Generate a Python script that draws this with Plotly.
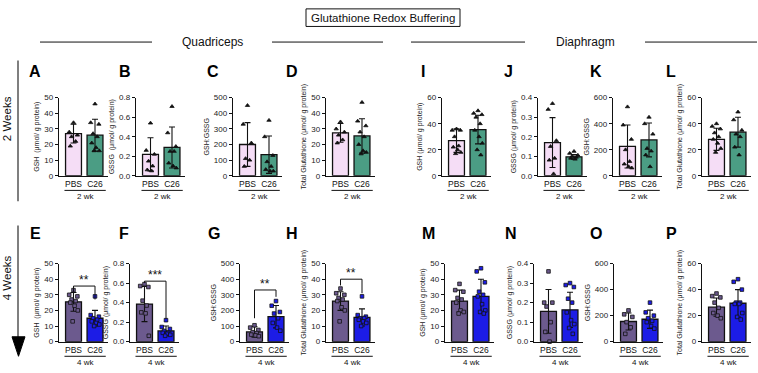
import plotly.graph_objects as go

W, H = 758, 373

# ---------------- data ----------------
letters = ["A", "B", "C", "D", "I", "J", "K", "L",
           "E", "F", "G", "H", "M", "N", "O", "P"]
groups = ["PBS", "C26"]
ytitles = ["GSH  (μmol/ g protein)", "GSSG  (μmol/ g protein)", "GSH:GSSG", "Total Glutathione (μmol/ g protein)",
           "GSH (μmol/ g protein)", "GSSG (μmol/ g protein)", "GSH:GSSG", "Total Glutathione (μmol/ g protein)",
           "GSH  (μmol/ g protein)", "GSSG (μmol/ g protein)", "GSH:GSSG", "Total Glutathione (μmol/ g protein)",
           "GSH (μmol/ g protein)", "GSSG (μmol/ g protein)", "GSH:GSSG", "Total Glutathione (μmol/ g protein)"]
ymax = [50, 0.8, 500, 50, 60, 0.4, 600, 60,
        50, 0.8, 500, 50, 50, 0.4, 600, 60]
ydtick = [10, 0.2, 100, 10, 20, 0.1, 200, 20,
          10, 0.2, 100, 10, 10, 0.1, 200, 20]

pbs_mean = [27, 0.22, 200, 27.5, 27, 0.17, 225, 28,
            25.5, 0.385, 62, 26, 26, 0.155, 155, 26.5]
pbs_sd = [6, 0.17, 140, 6, 9, 0.128, 165, 8.5,
          6, 0.18, 33, 6, 7, 0.112, 65, 7]
c26_mean = [26, 0.29, 135, 25.5, 35.5, 0.097, 275, 33.5,
            15, 0.11, 160, 15.5, 29, 0.163, 172, 29.5]
c26_sd = [10.2, 0.21, 120, 11, 11, 0.012, 130, 11.5,
          5, 0.05, 72, 5.5, 11, 0.09, 70, 10.5]

pbs_pts = [
    [34, 28, 26, 25, 22, 19],
    [0.54, 0.26, 0.22, 0.15, 0.10, 0.06, 0.05],
    [450, 330, 210, 110, 100, 60],
    [34.5, 30, 28, 26, 23, 21],
    [36, 35, 35, 30, 23, 22, 20, 18, 17],
    [0.37, 0.34, 0.18, 0.15, 0.09, 0.08, 0.01],
    [530, 390, 280, 200, 110, 90, 70, 60],
    [40, 38, 36, 33, 30, 28, 25, 21, 18],
    [33, 30, 29, 27, 26, 25, 23, 20, 13],
    [0.59, 0.57, 0.56, 0.42, 0.37, 0.30, 0.29, 0.06],
    [105, 90, 75, 60, 55, 45, 40, 35],
    [34, 31, 30, 28, 27, 26, 22, 20, 13],
    [37, 33, 32, 28, 27, 25, 20, 19, 18],
    [0.36, 0.20, 0.20, 0.18, 0.10, 0.05, 0.0],
    [240, 210, 190, 150, 110, 60],
    [37, 35, 34, 30, 26, 22, 20, 18],
]
c26_pts = [
    [46, 34, 33, 27, 25, 21, 18, 16, 16],
    [0.71, 0.44, 0.30, 0.25, 0.25, 0.13, 0.10, 0.08],
    [355, 250, 130, 90, 60, 40, 30, 30],
    [47, 35, 32, 28, 25, 20, 16, 15, 14],
    [50, 48, 47, 45, 40, 35, 30, 25, 20, 16],
    [0.125, 0.115, 0.105, 0.10, 0.095, 0.09, 0.085],
    [450, 400, 320, 210, 190, 160, 70],
    [49, 43, 35, 32, 30, 22, 16],
    [29, 17, 16, 15, 14, 13, 12, 11, 10],
    [0.22, 0.15, 0.13, 0.11, 0.09, 0.09, 0.08, 0.07, 0.06],
    [260, 230, 190, 180, 150, 120, 90, 70],
    [29, 17, 16, 15, 15, 14, 13, 12, 10],
    [47, 45, 38, 32, 30, 29, 24, 20, 19, 18],
    [0.30, 0.29, 0.28, 0.22, 0.20, 0.15, 0.11, 0.09, 0.07, 0.04],
    [300, 225, 200, 180, 160, 150, 120, 100],
    [48, 46, 40, 30, 30, 29, 29, 22, 19, 17],
]

# significance brackets: panel index, left-leg bottom, right-leg bottom, top, label
sig_panel = [8, 9, 10, 11]
sig_left = [30.5, 0.60, 150, 36]
sig_right = [27, 0.23, 287, 31]
sig_top = [35.6, 0.62, 331, 40]
sig_label = ["**", "***", "**", "**"]

# ---------------- layout geometry ----------------
axis_x0 = [59, 136, 233, 326, 442, 538, 613, 702,
           59, 130, 240, 326, 445, 534, 614, 702]
letter_x = [35, 125, 213, 292, 423, 508, 596, 671,
            35, 124, 214, 292, 428, 511, 596, 671]
FONT = "Liberation Sans, Arial, sans-serif"
col_pbs = ["#F5DDF6", "#6C5A8E"]
col_c26 = ["#4B9D84", "#1C1CE6"]
sym = ["triangle-up", "square"]

def px(x):
    return x / W

def py(y):
    return 1 - y / H

def ann(**kw):
    kw.setdefault("showarrow", False)
    kw.setdefault("xanchor", "center")
    kw.setdefault("yanchor", "middle")
    return kw

fig = go.Figure()
layout = dict(width=W, height=H, margin=dict(l=0, r=0, t=0, b=0),
              paper_bgcolor="white", plot_bgcolor="white", showlegend=False,
              font=dict(family=FONT, color="#222"))
shapes = []
annotations = []

offs = [0.0, -0.2, 0.18, -0.09, 0.1, -0.15, 0.05, 0.2, -0.04, 0.13]
xunit = 21.5  # px per category step

for i in range(16):
    row = 0 if i < 8 else 1
    k = "" if i == 0 else str(i + 1)
    xa, ya = "x" + k, "y" + k
    x0 = axis_x0[i]
    ytop, ybot = (96, 176) if row == 0 else (266, 346)
    xr = [-14.5 / xunit, (49 - 14.5) / xunit]
    fig.add_trace(go.Bar(x=[0, 1], y=[pbs_mean[i], c26_mean[i]], width=0.74,
                         marker=dict(color=[col_pbs[row], col_c26[row]],
                                     line=dict(color="#111", width=1.3)),
                         error_y=dict(type="data", array=[pbs_sd[i], c26_sd[i]],
                                      color="#111", thickness=1.1, width=3),
                         xaxis=xa, yaxis=ya, hoverinfo="skip"))
    for g, pts in enumerate([pbs_pts[i], c26_pts[i]]):
        xs = [g + offs[j % len(offs)] for j in range(len(pts))]
        mc = "#111" if row == 0 else (col_pbs[1] if g == 0 else col_c26[1])
        fig.add_trace(go.Scatter(x=xs, y=pts, mode="markers",
                                 marker=dict(symbol=sym[row], size=3.8 if row == 0 else 3.6,
                                             color=mc, line=dict(color="#111", width=0.8)),
                                 xaxis=xa, yaxis=ya, cliponaxis=False, hoverinfo="skip"))
    layout["xaxis" + k] = dict(domain=[px(x0), px(x0 + 49)], range=xr, anchor=ya,
                               showline=True, linecolor="#111", linewidth=1.2,
                               tickvals=[0, 1], ticktext=groups, ticks="",
                               tickfont=dict(size=8.5, color="#111"), showgrid=False,
                               zeroline=False, fixedrange=True)
    layout["yaxis" + k] = dict(domain=[py(ybot), py(ytop)], range=[0, ymax[i]], anchor=xa,
                               showline=True, linecolor="#111", linewidth=1.2,
                               ticks="outside", ticklen=3, tickwidth=1, tickcolor="#111",
                               dtick=ydtick[i], tick0=0,
                               tickformat=".1f" if ymax[i] < 1 else "d",
                               tickfont=dict(size=8, color="#222"), showgrid=False,
                               zeroline=False, fixedrange=True,
                               title=dict(text=ytitles[i], font=dict(size=7, color="#222"),
                                          standoff=3))
    # group underline and week label
    uy = 191 if row == 0 else 361
    shapes.append(dict(type="line", xref=xa, yref="paper", x0=-0.42, x1=1.5,
                       y0=py(uy), y1=py(uy), line=dict(color="#111", width=1)))
    annotations.append(ann(text="2 wk" if row == 0 else "4 wk", xref=xa, yref="paper",
                           x=0.54, y=py(uy + 6), font=dict(size=8, color="#111")))
    # panel letter
    annotations.append(ann(text="<b>" + letters[i] + "</b>", xref="paper", yref="paper",
                           x=px(letter_x[i]), y=py(69 if row == 0 else 235),
                           font=dict(size=16, color="#000", family="Liberation Sans, Arial")))

# significance brackets
for s in range(len(sig_panel)):
    i = sig_panel[s]
    k = "" if i == 0 else str(i + 1)
    xa, ya = "x" + k, "y" + k
    shapes.append(dict(type="path", xref=xa, yref=ya,
                       path=f"M 0,{sig_left[s]} L 0,{sig_top[s]} L 1,{sig_top[s]} L 1,{sig_right[s]}",
                       line=dict(color="#111", width=1)))
    annotations.append(ann(text=sig_label[s], xref=xa, yref=ya, x=0.5, y=sig_top[s],
                           yanchor="bottom", yshift=-3, font=dict(size=12, color="#111")))

# title box
shapes.append(dict(type="rect", xref="paper", yref="paper", x0=px(306), x1=px(460),
                   y0=py(23), y1=py(5), line=dict(color="#111", width=1)))
annotations.append(ann(text="Glutathione Redox Buffering", xref="paper", yref="paper",
                       x=px(383), y=py(14), font=dict(size=11.5, color="#111")))
# section headers
for (a, b) in [(40, 152), (272, 383), (411, 525), (645, 757)]:
    shapes.append(dict(type="line", xref="paper", yref="paper", x0=px(a), x1=px(b),
                       y0=py(39), y1=py(39), line=dict(color="#111", width=1)))
annotations.append(ann(text="Quadriceps", xref="paper", yref="paper", x=px(212), y=py(39),
                       font=dict(size=12, color="#111")))
annotations.append(ann(text="Diaphragm", xref="paper", yref="paper", x=px(585), y=py(39),
                       font=dict(size=12, color="#111")))
# weeks side lines
shapes.append(dict(type="line", xref="paper", yref="paper", x0=px(18), x1=px(18),
                   y0=py(58), y1=py(202), line=dict(color="#555", width=1.5)))
shapes.append(dict(type="line", xref="paper", yref="paper", x0=px(18), x1=px(18),
                   y0=py(227), y1=py(345), line=dict(color="#555", width=1.5)))
shapes.append(dict(type="path", xref="paper", yref="paper",
                   path=f"M {px(12)},{py(341)} L {px(25)},{py(341)} L {px(18.5)},{py(361)} Z",
                   fillcolor="#000", line=dict(color="#000", width=1)))
annotations.append(ann(text="2 Weeks", xref="paper", yref="paper", x=px(7), y=py(118),
                       textangle=-90, font=dict(size=11.5, color="#111")))
annotations.append(ann(text="4 Weeks", xref="paper", yref="paper", x=px(7), y=py(281),
                       textangle=-90, font=dict(size=11.5, color="#111")))

layout["shapes"] = shapes
layout["annotations"] = annotations
fig.update_layout(**layout)
fig.write_html("out.html", config={"displayModeBar": False, "staticPlot": True},
               post_script="document.body.style.margin='0';document.body.style.overflow='hidden';")
